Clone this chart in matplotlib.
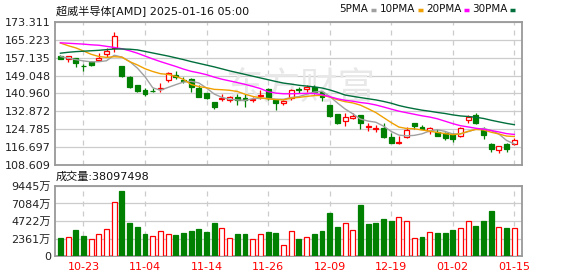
import matplotlib
matplotlib.use('Agg')
import matplotlib.pyplot as plt
import numpy as np
import pandas as pd

plt.rcParams['font.family'] = ['DejaVu Sans', 'Noto Sans CJK SC']

dates = ['10-18', '10-21', '10-22', '10-23', '10-24', '10-25', '10-28', '10-29', '10-30', '10-31',
         '11-01', '11-04', '11-05', '11-06', '11-07', '11-08', '11-11', '11-12', '11-13', '11-14',
         '11-15', '11-18', '11-19', '11-20', '11-21', '11-22', '11-25', '11-26', '11-27', '11-29',
         '12-02', '12-03', '12-04', '12-05', '12-06', '12-09', '12-10', '12-11', '12-12', '12-13',
         '12-16', '12-17', '12-18', '12-19', '12-20', '12-23', '12-24', '12-26', '12-27', '12-30',
         '12-31', '01-02', '01-03', '01-06', '01-07', '01-08', '01-10', '01-13', '01-14', '01-15']
label_dates = ['10-23', '11-04', '11-14', '11-26', '12-09', '12-19', '01-02', '01-15']

opens = [157.9, 156.6, 156.9, 153.5, 155.1, 156.0, 158.8, 161.7, 153.4, 148.4,
         144.8, 142.5, 142.3, 142.9, 147.1, 149.5, 146.9, 147.5, 143.3, 141.0,
         137.0, 138.6, 138.0, 139.4, 139.1, 138.0, 139.8, 143.0, 138.0, 136.5,
         138.8, 142.9, 142.9, 144.0, 141.5, 135.7, 131.7, 128.7, 129.7, 131.2,
         125.9, 124.8, 125.3, 121.4, 118.4, 121.4, 127.5, 125.7, 124.0, 123.7,
         123.0, 122.5, 121.6, 129.0, 131.2, 125.0, 118.0, 115.4, 118.0, 118.0]
highs = [158.3, 158.1, 157.0, 154.2, 155.5, 159.1, 161.4, 168.6, 153.6, 148.9,
         145.0, 143.6, 143.3, 145.6, 150.8, 151.1, 148.6, 148.1, 144.8, 141.2,
         137.3, 140.6, 140.0, 140.6, 140.6, 139.5, 142.5, 143.3, 138.1, 138.0,
         143.0, 143.8, 144.6, 144.6, 142.1, 135.8, 131.9, 132.0, 132.0, 131.2,
         127.5, 126.7, 127.5, 123.2, 121.7, 125.9, 127.7, 126.8, 126.0, 124.9,
         123.7, 123.0, 125.6, 131.1, 132.0, 126.0, 118.4, 117.1, 118.4, 120.7]
lows = [156.4, 155.1, 152.8, 151.0, 153.5, 155.7, 157.6, 159.6, 148.6, 143.6,
        141.6, 139.8, 141.5, 141.8, 146.3, 147.6, 145.6, 141.8, 139.2, 138.3,
        133.9, 137.6, 137.3, 135.6, 135.0, 137.3, 138.5, 138.0, 133.5, 135.8,
        138.2, 141.3, 141.6, 140.8, 137.7, 130.2, 127.2, 126.2, 129.3, 124.9,
        124.1, 123.4, 120.7, 118.4, 118.0, 120.7, 124.9, 124.9, 122.5, 121.6,
        119.9, 119.2, 121.1, 127.8, 127.0, 120.5, 114.6, 114.2, 114.6, 117.5]
closes = [156.7, 158.1, 154.6, 153.2, 153.9, 156.9, 160.3, 167.1, 148.9, 144.0,
          142.1, 140.7, 142.1, 143.3, 150.4, 148.3, 146.6, 143.8, 139.5, 138.9,
          134.7, 139.1, 139.5, 138.0, 137.9, 138.5, 140.3, 138.8, 136.5, 137.6,
          142.5, 142.4, 144.0, 141.5, 139.5, 130.8, 127.8, 130.2, 130.7, 127.5,
          126.2, 125.2, 121.4, 118.7, 119.2, 124.4, 126.4, 124.9, 125.2, 121.9,
          120.7, 120.5, 125.2, 130.2, 127.5, 122.3, 115.9, 117.1, 115.7, 119.9]
# volume in 万 (10k shares)
volumes = [2428, 2608, 3508, 2653, 2248, 3013, 3598, 7240, 8770, 4407,
           3868, 2923, 2743, 3328, 3013, 2788, 3058, 3373, 3598, 3238,
           4407, 3823, 2383, 2923, 2923, 2248, 3013, 3193, 3058, 1529,
           3328, 2248, 2608, 2923, 3328, 5756, 3868, 4497, 3463, 6835,
           4272, 4407, 4946, 4676, 5306, 4766, 2473, 2518, 3283, 3058,
           3058, 3463, 3733, 4766, 4002, 4676, 6025, 3958, 3733, 3810]
last_volume = 38097498

ma5_head = [157.7, 157.0, 156.3, 155.7]
ma10_head = [163.8, 162.6, 161.6, 160.2, 158.7, 157.7, 157.3, 157.6, 157.4]
ma20_head = [163.9, 163.7, 163.5, 163.3, 163.0, 162.8, 162.3, 161.8, 161.2, 160.3,
             159.2, 157.9, 156.6, 155.4, 154.3, 153.2, 152.0, 151.0, 150.3]
ma30_head = [159.2, 159.6, 159.9, 160.1, 160.3, 160.5, 160.8, 161.1, 161.1, 161.0,
             160.7, 160.0, 159.3, 158.6, 157.9, 157.1, 156.3, 155.4, 154.6, 153.8,
             153.0, 152.1, 151.2, 150.4, 149.6, 148.8, 148.0, 147.2, 146.4]

price_ticks = [108.609, 116.697, 124.785, 132.872, 140.960, 149.048, 157.135, 165.223, 173.311]
vol_ticks = [0, 2361, 4722, 7084, 9445]

RED = '#ff0000'
GREEN = '#008000'
GRID = '#cccccc'
BORDER = '#999999'

o = np.array(opens)
h = np.array(highs)
l = np.array(lows)
c = np.array(closes)
v = np.array(volumes)
x = np.arange(len(dates))

cs = pd.Series(c)
def ma(n, head):
    m = cs.rolling(n).mean().to_numpy()
    m[:n - 1] = head
    return m

mas = [('5PMA', ma(5, ma5_head), '#a0a0a0'),
       ('10PMA', ma(10, ma10_head), '#f0a000'),
       ('20PMA', ma(20, ma20_head), '#ff00ff'),
       ('30PMA', ma(30, ma30_head), '#006f3c')]

W, H = 578, 276
fig = plt.figure(figsize=(W / 100, H / 100), dpi=100)
fig.patch.set_facecolor('white')

def px_axes(left, top, right, bottom):
    return fig.add_axes([left / W, 1 - bottom / H, (right - left) / W, (bottom - top) / H])

ax = px_axes(55, 22, 522, 165)
axv = px_axes(55, 186, 522, 256)

tick_idx = [dates.index(d) for d in label_dates]

for a in (ax, axv):
    a.set_xlim(-0.7, 60.0)
    for s in a.spines.values():
        s.set_color(BORDER)
        s.set_linewidth(1.3)
    a.tick_params(length=0, labelsize=8, colors='#222222', pad=3)
    for t in tick_idx:
        a.axvline(t, color=GRID, lw=0.9, ls=(0, (4, 4)), zorder=0)

# price panel
ax.set_ylim(price_ticks[0], price_ticks[-1])
ax.set_yticks(price_ticks)
ax.set_yticklabels([f'{t:.3f}' for t in price_ticks])
for t in price_ticks:
    ax.axhline(t, color=GRID, lw=0.9, zorder=0)
ax.set_xticks([])

# faint watermark
ax.text(0.525, 0.54, '东方财富', transform=ax.transAxes, ha='center', va='center',
        fontsize=27, color='#e8e8e8', family=['Noto Sans CJK SC'], zorder=0.5)

up = c >= o
bw = 0.64
for i in x:
    col = RED if up[i] else GREEN
    ax.vlines(i, l[i], h[i], color=col, lw=0.9, zorder=2)
    bot = min(o[i], c[i])
    hgt = max(abs(c[i] - o[i]), 0.15)
    ax.bar(i, hgt, bottom=bot, width=bw, facecolor='white' if up[i] else col,
           edgecolor=col, linewidth=0.9, zorder=3)

for name, m, col in mas:
    ax.plot(x, m, color=col, lw=1.0, zorder=4)

# volume panel, coloured by close vs previous close
vol_up = np.r_[c[0] >= o[0], c[1:] >= c[:-1]]
for i in x:
    col = RED if vol_up[i] else GREEN
    axv.bar(i, v[i], width=bw, facecolor='white' if vol_up[i] else col,
            edgecolor=col, linewidth=0.9, zorder=3)
axv.set_ylim(0, vol_ticks[-1])
axv.set_yticks(vol_ticks)
axv.set_yticklabels([str(t) if t == 0 else f'{t}万' for t in vol_ticks])
for t in vol_ticks:
    axv.axhline(t, color=GRID, lw=0.9, zorder=0)
axv.set_xticks(tick_idx)
axv.set_xticklabels(label_dates, color=RED)
axv.tick_params(axis='x', pad=4)

# header texts
fig.text(56 / W, 1 - 11 / H, '超威半导体[AMD] 2025-01-16 05:00', fontsize=8, va='center',
         color='#111111')
fig.text(56 / W, 1 - 177 / H, f'成交量:{last_volume}', fontsize=8, va='center',
         color='#111111')

legend_x = [339, 380, 426, 472]
for (name, m, col), lx in zip(mas, legend_x):
    t = fig.text(lx / W, 1 - 9 / H, name, fontsize=7.5, va='center', color='#111111')
    fig.canvas.draw()
    bb = t.get_window_extent()
    x0 = bb.x1 + 3
    fig.add_artist(plt.Line2D([x0 / W, (x0 + 5) / W], [1 - 10 / H, 1 - 10 / H],
                              color=col, lw=2.5, solid_capstyle='butt'))

fig.savefig('out.png', dpi=100)
